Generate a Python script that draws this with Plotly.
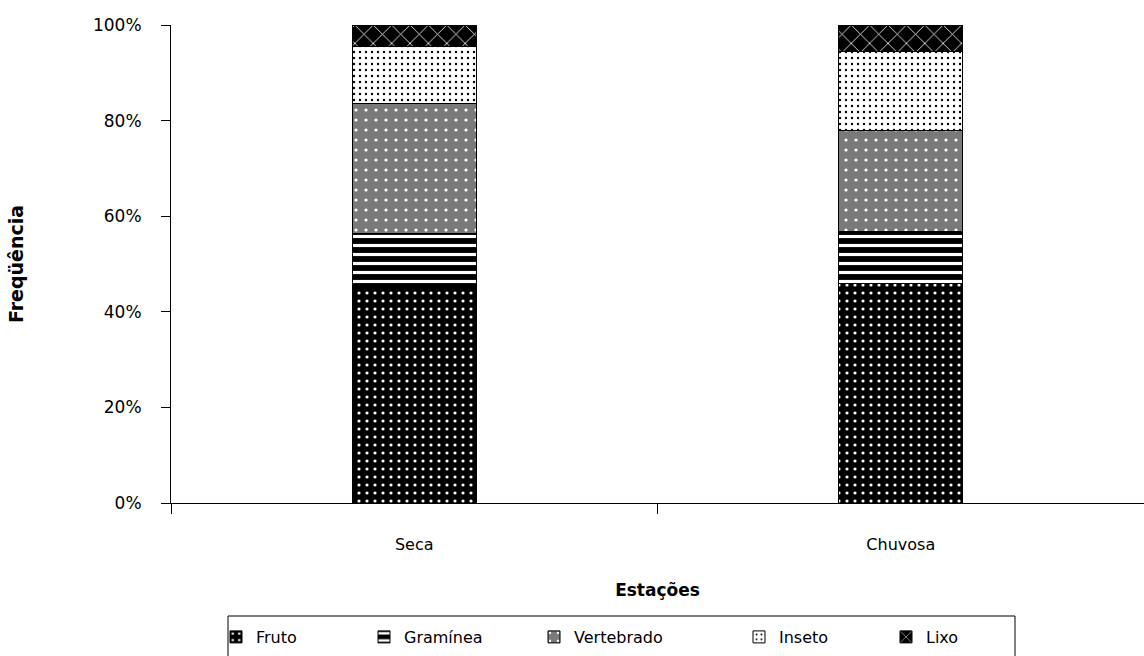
import plotly.graph_objects as go

# Diet composition by season (relative frequency, fraction of 1)
seasons = ["Seca", "Chuvosa"]
items = ["Fruto", "Gramínea", "Vertebrado", "Inseto", "Lixo"]
fruto = [0.453, 0.459]
graminea = [0.110, 0.108]
vertebrado = [0.272, 0.213]
inseto = [0.119, 0.164]
lixo = [0.046, 0.056]
y_ticks = [0, 0.2, 0.4, 0.6, 0.8, 1.0]

values = [fruto, graminea, vertebrado, inseto, lixo]

# Black-and-white hatch style for each food item
patterns = [
    dict(shape=".", bgcolor="#000000", fgcolor="#ffffff", size=8, solidity=0.12, fillmode="replace"),
    dict(shape="-", bgcolor="#000000", fgcolor="#ffffff", size=9, solidity=0.35, fillmode="replace"),
    dict(shape=".", bgcolor="#7a7a7a", fgcolor="#ffffff", size=10, solidity=0.08, fillmode="replace"),
    dict(shape=".", bgcolor="#ffffff", fgcolor="#000000", size=6, solidity=0.12, fillmode="replace"),
    dict(shape="x", bgcolor="#000000", fgcolor="#ffffff", size=13, solidity=0.12, fillmode="replace"),
]

# Plot area in pixels (used to place the legend row in paper units)
PLOT_LEFT, PLOT_WIDTH = 171, 973
PLOT_BOTTOM, PLOT_HEIGHT = 503, 478


def px_to_x(px):
    return (px - PLOT_LEFT) / PLOT_WIDTH


def px_to_y(py):
    return (PLOT_BOTTOM - py) / PLOT_HEIGHT


# left edge of each legend entry along the bottom row
legend_left_px = [216, 364, 534, 739, 886]
legend_ids = ["legend", "legend2", "legend3", "legend4", "legend5"]

base_font = "DejaVu Sans, Verdana, sans-serif"

fig = go.Figure()
for name, vals, pat, lid in zip(items, values, patterns, legend_ids):
    fig.add_trace(go.Bar(
        x=seasons,
        y=vals,
        name=name,
        legend=lid,
        marker=dict(color="#000000", pattern=pat,
                    line=dict(color="#000000", width=1)),
    ))

layout_legends = {}
for lid, lpx in zip(legend_ids, legend_left_px):
    layout_legends[lid] = dict(
        orientation="h",
        x=px_to_x(lpx), xanchor="left",
        y=px_to_y(620), yanchor="top",
        bgcolor="rgba(0,0,0,0)",
        borderwidth=0,
        itemwidth=30,
        font=dict(family=base_font, size=16, color="#000000"),
    )

fig.update_layout(
    barmode="stack",
    bargap=0.745,
    width=1144,
    height=656,
    margin=dict(l=PLOT_LEFT, r=0, t=25, b=153),
    paper_bgcolor="#ffffff",
    plot_bgcolor="#ffffff",
    font=dict(family=base_font, size=16, color="#000000"),
    showlegend=True,
    **layout_legends,
    shapes=[
        # frame around the legend row
        dict(type="rect", xref="paper", yref="paper",
             x0=px_to_x(228), x1=px_to_x(1015),
             y0=px_to_y(616), y1=px_to_y(664),
             line=dict(color="#000000", width=1),
             fillcolor="rgba(0,0,0,0)", layer="below"),
    ],
    xaxis=dict(
        showline=True, linecolor="#000000", linewidth=1,
        ticks="outside", ticklen=10, tickcolor="#000000", tickwidth=1,
        tickson="boundaries",
        ticklabelstandoff=27,
        tickfont=dict(size=16),
        showgrid=False, zeroline=False,
        title=dict(text="<b>Estações</b>", standoff=30, font=dict(size=17)),
    ),
    yaxis=dict(
        range=[0, 1],
        tickvals=y_ticks,
        tickformat=".0%",
        showline=True, linecolor="#000000", linewidth=1,
        ticks="outside", ticklen=9, tickcolor="#000000", tickwidth=1,
        ticklabelstandoff=16,
        tickfont=dict(size=17),
        showgrid=False, zeroline=False,
        title=dict(text="<b>Freqüência</b>", standoff=64, font=dict(size=19)),
    ),
)

fig.write_html("out.html")
